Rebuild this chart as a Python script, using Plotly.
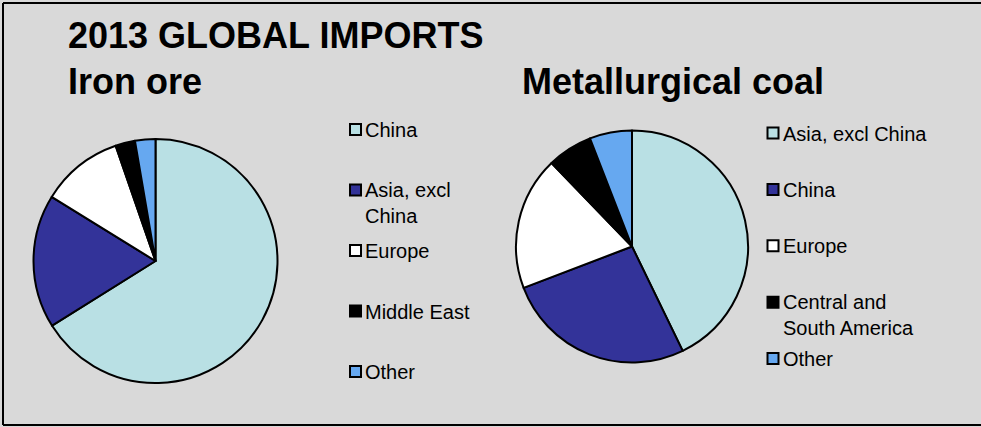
import plotly.graph_objects as go

# 2013 global import shares (%)
iron_labels = ["China", "Asia, excl China", "Europe", "Middle East", "Other"]
iron_legend = ["China", "Asia, excl<br>China", "Europe", "Middle East", "Other"]
iron_values = [66.1, 17.7, 10.9, 2.6, 2.7]

coal_labels = ["Asia, excl China", "China", "Europe", "Central and South America", "Other"]
coal_legend = ["Asia, excl China", "China", "Europe", "Central and<br>South America", "Other"]
coal_values = [42.8, 26.4, 18.6, 6.3, 5.9]

colors = ["#B9E0E4", "#333399", "#FFFFFF", "#000000", "#66A8F0"]

W, H = 981, 427
BG = "#D9D9D9"
FONT = "Liberation Sans, Arial, sans-serif"


def px(x):
    return x / W


def py(y):
    return 1 - y / H


def pie_domain(cx, cy, r):
    return dict(x=[px(cx - r), px(cx + r)], y=[py(cy + r), py(cy - r)])


fig = go.Figure()

fig.add_trace(go.Pie(
    labels=iron_labels, values=iron_values, sort=False,
    direction="clockwise", rotation=0,
    marker=dict(colors=colors, line=dict(color="#000000", width=2)),
    textinfo="none", hoverinfo="label+percent",
    domain=pie_domain(155.5, 261, 122), showlegend=False,
))

fig.add_trace(go.Pie(
    labels=coal_labels, values=coal_values, sort=False,
    direction="clockwise", rotation=0,
    marker=dict(colors=colors, line=dict(color="#000000", width=2)),
    textinfo="none", hoverinfo="label+percent",
    domain=pie_domain(632, 246.5, 116), showlegend=False,
))

shapes = []
annotations = []

# chart frame: top, left and bottom edges (the right edge runs off the page)
for x0, y0, x1, y1 in [(3, 3, W + 5, 3), (3, 3, 3, 425), (3, 425, W + 5, 425)]:
    shapes.append(dict(type="line", xref="paper", yref="paper",
                       x0=px(x0), y0=py(y0), x1=px(x1), y1=py(y1),
                       line=dict(color="#000000", width=2)))

# titles
for text, x, y in [("2013 GLOBAL IMPORTS", 68, 35),
                   ("Iron ore", 68, 80),
                   ("Metallurgical coal", 522, 80)]:
    annotations.append(dict(text=f"<b>{text}</b>", x=px(x - 2), y=py(y + 1),
                            xref="paper", yref="paper", xanchor="left", yanchor="middle",
                            showarrow=False, font=dict(family=FONT, size=36, color="#000000")))

LEG_SIZE = 20
LINE_H = 24


def add_legend(names, x_marker, x_text, y_first, step):
    for i, name in enumerate(names):
        yc = y_first + i * step
        shapes.append(dict(type="rect", xref="paper", yref="paper",
                           x0=px(x_marker), x1=px(x_marker + 11),
                           y0=py(yc + 5.5), y1=py(yc - 5.5),
                           line=dict(color="#000000", width=2), fillcolor=colors[i]))
        n = name.count("<br>") + 1
        annotations.append(dict(text=name, x=px(x_text - 2), y=py(yc + (n - 1) * LINE_H / 2 + 0.5),
                                xref="paper", yref="paper", xanchor="left", yanchor="middle",
                                align="left", showarrow=False,
                                font=dict(family=FONT, size=LEG_SIZE, color="#000000")))


add_legend(iron_legend, 350, 365, 129.5, 60.5)
add_legend(coal_legend, 767.5, 783, 133, 56.4)

fig.update_layout(
    width=W, height=H,
    margin=dict(l=0, r=0, t=0, b=0),
    paper_bgcolor=BG, plot_bgcolor=BG,
    shapes=shapes, annotations=annotations,
    showlegend=False,
)

page_style = (
    "document.documentElement.style.background='%s';"
    "document.body.style.background='%s';"
    "document.body.style.margin='0';"
    "document.body.style.overflow='hidden';" % (BG, BG)
)

fig.write_html("out.html", config=dict(displayModeBar=False), post_script=page_style)
